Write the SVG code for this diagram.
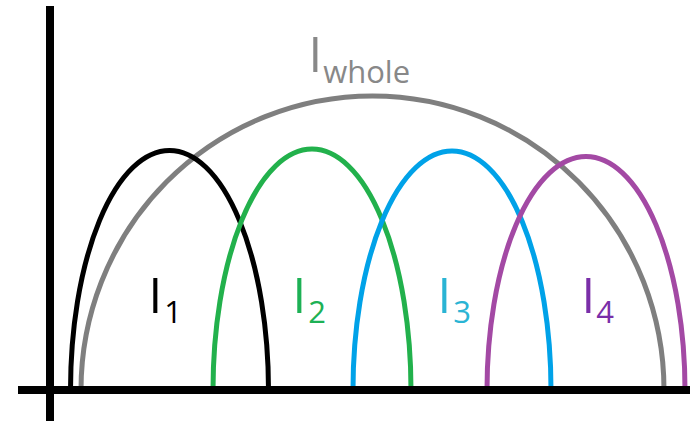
<svg xmlns="http://www.w3.org/2000/svg" width="690" height="421" viewBox="0 0 690 421">
  <style>
    .arc { fill: none; stroke-width: 5; }
    .lbl { font-family: "Open Sans", "DejaVu Sans", sans-serif; font-size: 49px; }
    .sub { font-size: 31px; }
    .axis { stroke: #000; stroke-width: 8; }
  </style>
  <rect width="690" height="421" fill="#fff"/>
  <g id="connectors">
    <path id="whole-arc" class="arc" stroke="#7f7f7f" d="M81,390 A291.5 294 0 0 1 664,390"/>
    <path id="arc1" class="arc" stroke="#000000" d="M70.5,390 A99 239.5 0 0 1 268.5,390"/>
    <path id="arc2" class="arc" stroke="#22b14c" d="M213,390 A99 241 0 0 1 411,390"/>
    <path id="arc3" class="arc" stroke="#00a2e8" d="M353,390 A99 239 0 0 1 551,390"/>
    <path id="arc4" class="arc" stroke="#a349a4" d="M487,390 A99 233.5 0 0 1 685,390"/>
    <line id="y-axis" class="axis" x1="50" y1="6" x2="50" y2="421"/>
    <line id="x-axis" class="axis" x1="18" y1="390" x2="690" y2="390"/>
  </g>
  <g id="label-whole">
    <text class="lbl" x="308.5" y="72" fill="#888888" font-size="48">I<tspan class="sub" dx="1" dy="11" font-size="31.5">whole</tspan></text>
  </g>
  <g id="label-1">
    <text class="lbl" x="148.5" y="313" fill="#000000">I<tspan class="sub" dx="2" dy="10">1</tspan></text>
  </g>
  <g id="label-2">
    <text class="lbl" x="292.5" y="313" fill="#1db155">I<tspan class="sub" dx="2" dy="10">2</tspan></text>
  </g>
  <g id="label-3">
    <text class="lbl" x="437.5" y="313" fill="#2ab4d4">I<tspan class="sub" dx="2" dy="10">3</tspan></text>
  </g>
  <g id="label-4">
    <text class="lbl" x="581.5" y="313" fill="#7a2ea8">I<tspan class="sub" dx="1" dy="10">4</tspan></text>
  </g>
</svg>
